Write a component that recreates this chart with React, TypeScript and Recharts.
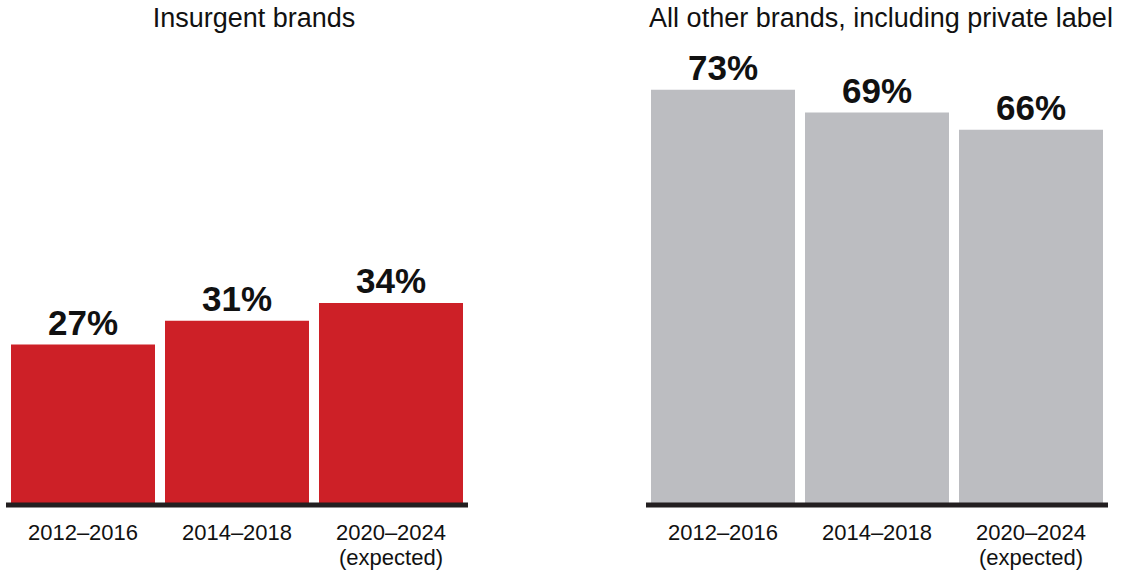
import { Bar, BarChart, LabelList, XAxis, YAxis } from "recharts";

const periods = ["2012–2016", "2014–2018", "2020–2024"];
const periodNotes = ["", "", "(expected)"];
const insurgentShare = [27, 31, 34];
const otherShare = [73, 69, 66];

const FONT = "'Liberation Sans', Arial, Helvetica, sans-serif";

const insurgentData = periods.map((p, i) => ({ period: p, note: periodNotes[i], value: insurgentShare[i] }));
const otherData = periods.map((p, i) => ({ period: p, note: periodNotes[i], value: otherShare[i] }));

function PeriodTick({ x, y, payload, index }: any) {
  const note = periodNotes[index ?? 0];
  return (
    <g transform={`translate(${x},${y})`}>
      <text textAnchor="middle" fontFamily={FONT} fontSize={22} fill="#111">
        <tspan x={0} dy={27}>{payload.value}</tspan>
        {note && (
          <tspan x={0} dy={25}>{note}</tspan>
        )}
      </text>
    </g>
  );
}

type PanelProps = {
  data: { period: string; note: string; value: number }[];
  color: string;
  max: number;
  left: number;
};

function Panel({ data, color, max, left }: PanelProps) {
  return (
    <div style={{ position: "absolute", left, top: 0 }}>
      <BarChart
        width={474}
        height={575}
        data={data}
        margin={{ top: 50, right: 6, left: 6, bottom: 0 }}
        barCategoryGap={5}
      >
        <YAxis hide domain={[0, max]} />
        <XAxis
          dataKey="period"
          height={70}
          axisLine={{ stroke: "#231f20", strokeWidth: 5 }}
          tickLine={false}
          interval={0}
          tick={<PeriodTick />}
        />
        <Bar dataKey="value" fill={color} isAnimationActive={false}>
          <LabelList
            dataKey="value"
            position="top"
            offset={10}
            formatter={(v: any) => `${v}%`}
            style={{ fontFamily: FONT, fontSize: 35, fontWeight: 700, fill: "#111" }}
          />
        </Bar>
      </BarChart>
    </div>
  );
}

export default function App() {
  return (
    <div
      style={{
        position: "absolute",
        left: 0,
        top: 0,
        width: 1128,
        height: 575,
        background: "#fff",
        fontFamily: FONT,
      }}
    >
      <Panel data={insurgentData} color="#cd2027" max={76.6} left={0} />
      <Panel data={otherData} color="#bcbdc1" max={80} left={640} />
      <div style={{ position: "absolute", left: 0, width: 508, top: 3, textAlign: "center", fontSize: 27, color: "#111" }}>
        Insurgent brands
      </div>
      <div style={{ position: "absolute", left: 637, width: 488, top: 3, textAlign: "center", fontSize: 27, color: "#111", whiteSpace: "nowrap" }}>
        All other brands, including private label
      </div>
    </div>
  );
}
